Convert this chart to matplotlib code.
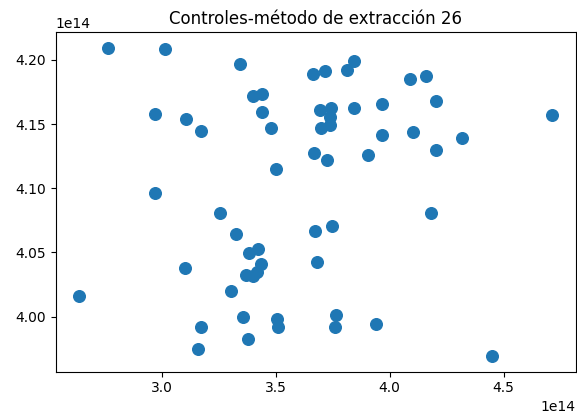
import numpy as np
import matplotlib
matplotlib.use("Agg")
import matplotlib.pyplot as plt

# control values (in units of 1e14)
x_vals = [2.764, 3.013, 3.345, 3.664, 3.716, 3.814, 3.843, 4.087, 4.160, 3.402,
          3.440, 2.969, 3.108, 3.173, 3.440, 3.480, 3.693, 3.744, 3.738, 3.697,
          3.737, 3.843, 3.965, 4.201, 4.713, 3.968, 4.100, 4.316, 3.668, 3.724,
          3.903, 4.201, 3.501, 2.972, 3.255, 3.326, 3.671, 3.745, 4.180, 3.384,
          3.421, 3.100, 3.434, 3.416, 3.370, 3.399, 3.683, 2.638, 3.304, 3.358,
          3.505, 3.508, 3.173, 3.379, 3.159, 3.766, 3.760, 3.939, 4.447]
y_vals = [4.2095, 4.2088, 4.1971, 4.1894, 4.1915, 4.1922, 4.1995, 4.1849, 4.1876, 4.1717,
          4.1731, 4.1578, 4.1542, 4.1446, 4.1593, 4.1469, 4.1609, 4.1624, 4.1557, 4.1469,
          4.1490, 4.1622, 4.1658, 4.1679, 4.1573, 4.1412, 4.1441, 4.1389, 4.1273, 4.1221,
          4.1257, 4.1301, 4.1148, 4.0960, 4.0804, 4.0641, 4.0667, 4.0706, 4.0807, 4.0498,
          4.0527, 4.0377, 4.0408, 4.0351, 4.0325, 4.0320, 4.0426, 4.0157, 4.0196, 3.9997,
          3.9984, 3.9916, 3.9916, 3.9828, 3.9748, 4.0009, 3.9916, 3.9945, 3.9691]

x = np.array(x_vals) * 1e14
y = np.array(y_vals) * 1e14

fig = plt.figure(figsize=(5.77, 4.17), dpi=100)
ax = fig.add_subplot(111)
fig.subplots_adjust(left=0.0965, right=0.998, bottom=0.1086, top=0.9225)
ax.scatter(x, y, s=70)
ax.set_title("Controles-método de extracción 26")
fig.savefig("out.png", dpi=100)
